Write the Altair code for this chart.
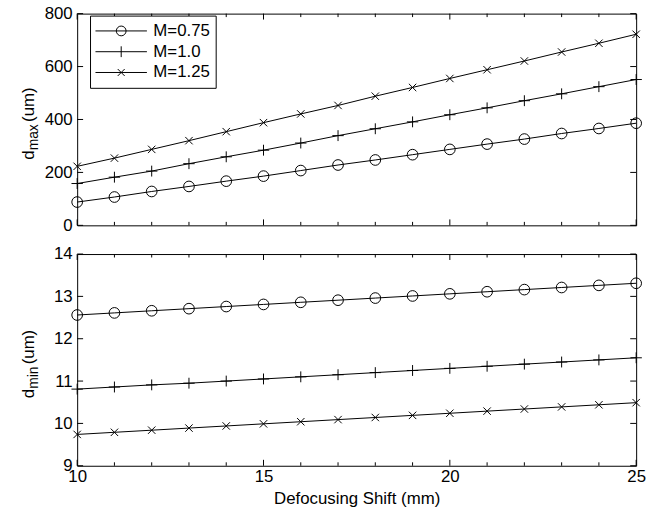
import altair as alt
import pandas as pd

FONT = "Liberation Sans"
FS = 17          # main text size
FS_SUB = 14      # subscript size

# ---- data -------------------------------------------------------------
shift_mm = list(range(10, 26))
series = ["M=0.75", "M=1.0", "M=1.25"]

dmax_075 = [88, 107, 128, 147, 167, 186, 207, 228, 247, 267, 287, 307, 326, 347, 366, 386]
dmax_100 = [158, 182, 205, 233, 259, 284, 311, 339, 365, 391, 418, 444, 471, 497, 524, 551]
dmax_125 = [223, 254, 287, 320, 354, 388, 421, 453, 488, 521, 555, 588, 621, 655, 688, 722]

dmin_075 = [12.56, 12.61, 12.66, 12.71, 12.76, 12.81, 12.86, 12.91, 12.96, 13.01, 13.06, 13.11, 13.16, 13.21, 13.26, 13.31]
dmin_100 = [10.81, 10.86, 10.91, 10.95, 11.00, 11.05, 11.10, 11.15, 11.20, 11.25, 11.30, 11.35, 11.40, 11.45, 11.50, 11.55]
dmin_125 = [9.74, 9.79, 9.84, 9.89, 9.94, 9.99, 10.04, 10.09, 10.14, 10.19, 10.24, 10.29, 10.34, 10.39, 10.44, 10.49]

x_major = [10, 15, 20, 25]
x_minor = [v for v in shift_mm if v not in x_major]
y_top_ticks = [0, 200, 400, 600, 800]
y_bot_ticks = [9, 10, 11, 12, 13, 14]

W, H = 565, 214
MAJ, MIN = 6, 3.5


def long_table(cols):
    rows = []
    for name, vals in zip(series, cols):
        for s, v in zip(shift_mm, vals):
            rows.append({"shift": s, "value": v, "series": name})
    return pd.DataFrame(rows)


top_df = long_table([dmax_075, dmax_100, dmax_125])
bot_df = long_table([dmin_075, dmin_100, dmin_125])

# open marker outlines (custom symbol paths)
marker_paths = [
    "M1.08,0A1.08,1.08,0,1,1,-1.08,0A1.08,1.08,0,1,1,1.08,0Z",
    "M-1.15,0H1.15M0,-1.1V1.1",
    "M-0.75,-0.75L0.75,0.75M-0.75,0.75L0.75,-0.75",
]
# legend keys: a line segment with the marker in the middle
legend_paths = [
    "M-1,0H1M0.19,0A0.19,0.19,0,1,1,-0.19,0A0.19,0.19,0,1,1,0.19,0Z",
    "M-1,0H1M0,-0.21V0.21",
    "M-1,0H1M-0.135,-0.135L0.135,0.135M-0.135,0.135L0.135,-0.135",
]
LEGEND_SIZE = 52 ** 2


def panel(df, ydomain, yticks, sub, show_x_labels, with_legend):
    xs = alt.Scale(domain=[10, 25], nice=False, zero=False)
    ys = alt.Scale(domain=ydomain, nice=False, zero=False)
    if show_x_labels:
        xaxis = alt.Axis(values=x_major, format="d", ticks=False, domain=False, grid=False,
                         labelFlush=False,
                         labelFontSize=FS, labelFont=FONT, labelColor="black", labelPadding=3,
                         title="Defocusing Shift (mm)", titleFontSize=FS, titleFont=FONT,
                         titleFontWeight="normal", titleColor="black", titleY=38,
                         titleBaseline="alphabetic")
    else:
        xaxis = None
    yaxis = alt.Axis(values=yticks, ticks=False, domain=False, grid=False, title=None,
                     labelFlush=False,
                     labelFontSize=FS, labelFont=FONT, labelColor="black", labelPadding=5)

    x = alt.X("shift:Q", scale=xs, axis=xaxis)
    y = alt.Y("value:Q", scale=ys, axis=yaxis)

    lines = alt.Chart(df).mark_line(color="black", strokeWidth=1).encode(
        x=x, y=y, detail="series:N")
    points = alt.Chart(df).mark_point(filled=False, color="black", strokeWidth=1,
                                      size=100, opacity=1).encode(
        x=x, y=y,
        shape=alt.Shape("series:N", scale=alt.Scale(domain=series, range=marker_paths),
                        legend=None))

    # tick marks drawn inward on all four sides
    maj = pd.DataFrame({"shift": x_major})
    mnr = pd.DataFrame({"shift": x_minor})
    yt = pd.DataFrame({"value": yticks})
    rule = dict(color="black", strokeWidth=1)
    ticks = [
        alt.Chart(maj).mark_rule(**rule).encode(x=x, y=alt.value(0), y2=alt.value(MAJ)),
        alt.Chart(maj).mark_rule(**rule).encode(x=x, y=alt.value(H), y2=alt.value(H - MAJ)),
        alt.Chart(mnr).mark_rule(**rule).encode(x=x, y=alt.value(0), y2=alt.value(MIN)),
        alt.Chart(mnr).mark_rule(**rule).encode(x=x, y=alt.value(H), y2=alt.value(H - MIN)),
        alt.Chart(yt).mark_rule(**rule).encode(y=y, x=alt.value(0), x2=alt.value(MAJ)),
        alt.Chart(yt).mark_rule(**rule).encode(y=y, x=alt.value(W), x2=alt.value(W - MAJ)),
    ]

    # y title "d_sub (um)" from three rotated pieces, each centred on its own span
    w_d = 0.556 * FS
    w_sub = {"max": 1.889, "min": 1.611}[sub] * FS_SUB
    w_um = (0.278 + 2.055) * FS
    start = H / 2 + (w_d + w_sub + w_um) / 2 + 3      # bottom end of the title
    base_x = -44                                    # baseline of the main text
    pieces = [
        ("d", FS, base_x - 0.30 * FS, start - w_d / 2),
        (sub, FS_SUB, base_x + 4 - 0.30 * FS_SUB, start - w_d - w_sub / 2),
        (" (um)", FS, base_x - 0.30 * FS, start - w_d - w_sub - w_um / 2),
    ]
    title_layers = []
    for txt, fs, px, py in pieces:
        title_layers.append(
            alt.Chart(pd.DataFrame({"label": [txt]})).mark_text(
                angle=270, fontSize=fs, font=FONT, color="black").encode(
                x=alt.value(int(round(px))), y=alt.value(int(round(py))),
                text="label:N"))

    layers = [lines, points] + ticks + title_layers
    if with_legend:
        key = alt.Chart(df).transform_filter("datum.shift < 0").mark_point(
            filled=False, color="black", strokeWidth=1, size=LEGEND_SIZE, opacity=1).encode(
            x=x, y=y,
            shape=alt.Shape("series:N", scale=alt.Scale(domain=series, range=legend_paths),
                            legend=alt.Legend(title=None, orient="none", legendX=13, legendY=2,
                                              symbolSize=LEGEND_SIZE, symbolStrokeWidth=1,
                                              symbolStrokeColor="black", symbolOpacity=1,
                                              labelFontSize=FS, labelFont=FONT,
                                              labelColor="black", labelOffset=6,
                                              strokeColor="black", fillColor="white",
                                              padding=5, clipHeight=21, rowPadding=0,
                                              cornerRadius=0, labelLimit=300)))
        layers.append(key)
    ch = alt.layer(*layers).properties(width=W, height=H)
    if with_legend:
        ch = ch.resolve_scale(shape="independent")
    return ch


top = panel(top_df, [0, 800], y_top_ticks, "max", False, True)
bottom = panel(bot_df, [9, 14], y_bot_ticks, "min", True, False)

chart = alt.vconcat(top, bottom, spacing=10).properties(
    padding={"left": 19, "top": 1, "right": 5, "bottom": 5},
    background="white",
).configure_view(stroke="black", strokeWidth=1)

chart.save("out.html", embed_options={"renderer": "svg", "actions": False})
